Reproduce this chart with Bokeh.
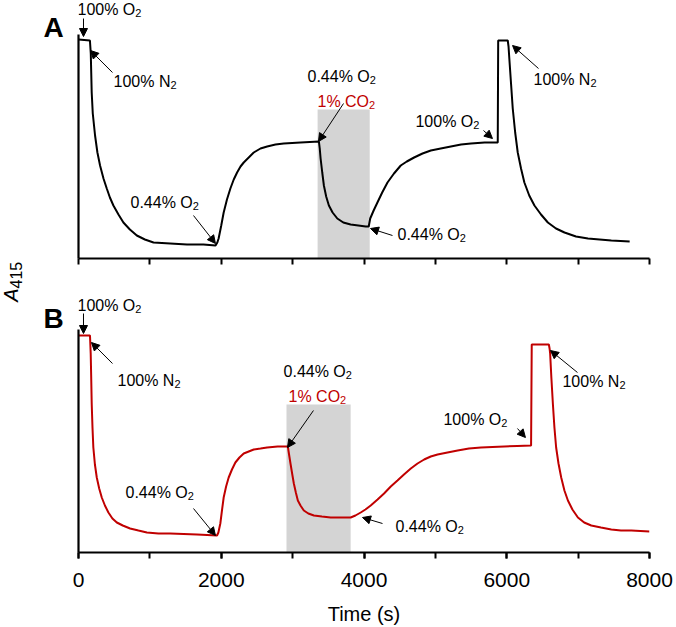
import math
from bokeh.plotting import figure
from bokeh.models import Range1d, Label, Arrow, NormalHead, FixedTicker
from bokeh.layouts import row, column
from bokeh.embed import file_html
from bokeh.resources import INLINE

FONT = "Liberation Sans"

# ---------------- data ----------------
# Panel A: time (s) and A415 (arbitrary units)
time_a = [0, 160, 172, 185, 200, 232, 265, 302, 350, 396, 440, 489, 560, 629, 720, 817, 930, 1051,
          1285, 1520, 1750, 1920,
          1945, 1963, 2000, 2034, 2080, 2128, 2175, 2222, 2270, 2315, 2385, 2455, 2550, 2643,
          2760, 2876, 3111, 3368,
          3380, 3392, 3415, 3438, 3470, 3508, 3560, 3626, 3710, 3813, 3920, 4024, 4066,
          4087, 4135, 4188, 4255, 4329, 4420, 4515, 4600, 4702, 4820, 4936, 5075, 5217, 5360,
          5498, 5690, 5874,
          5880, 6014, 6025, 6036, 6060, 6084, 6118, 6154, 6200, 6247, 6315, 6388, 6480, 6576,
          6690, 6809, 6970, 7138, 7300, 7465, 7722]
a415_a = [0.219, 0.218, 0.205, 0.166, 0.145, 0.123, 0.106, 0.093, 0.080, 0.070, 0.061, 0.053, 0.044,
          0.036, 0.029, 0.023, 0.019, 0.016,
          0.015, 0.014, 0.014, 0.013,
          0.016, 0.020, 0.033, 0.046, 0.059, 0.070, 0.079, 0.086, 0.092, 0.096, 0.101, 0.106, 0.110,
          0.112, 0.114, 0.115, 0.116, 0.117,
          0.110, 0.100, 0.086, 0.073, 0.062, 0.053, 0.046, 0.040, 0.036, 0.034, 0.033, 0.032, 0.032,
          0.040, 0.048, 0.056, 0.066, 0.076, 0.085, 0.093, 0.097, 0.101, 0.105, 0.108, 0.110, 0.112,
          0.114, 0.115, 0.116, 0.116,
          0.218, 0.218, 0.212, 0.200, 0.175, 0.150, 0.126, 0.106, 0.090, 0.076, 0.063, 0.053, 0.044,
          0.036, 0.030, 0.026, 0.022, 0.020, 0.019, 0.018, 0.017]

# Panel B
time_b = [0, 161, 171, 178, 185, 196, 208, 230, 256, 290, 326, 370, 419, 475, 537, 620, 723, 840,
          958, 1120, 1285, 1660, 1941,
          1960, 1987, 2010, 2034, 2068, 2104, 2150, 2198, 2255, 2315, 2385, 2455, 2550, 2643, 2790,
          2933,
          2950, 2970, 2993, 3017, 3045, 3073, 3110, 3157, 3220, 3298, 3410, 3532, 3680, 3813,
          3880, 3954, 4020, 4094, 4190, 4281, 4375, 4469, 4560, 4656, 4750, 4843, 4935, 5031, 5170,
          5312, 5470, 5639, 5800, 5966, 6150, 6341,
          6350, 6590, 6600, 6608, 6625, 6646, 6668, 6692, 6725, 6763, 6808, 6857, 6920, 6997, 7085,
          7184, 7320, 7465, 7600, 7746, 8000]
a415_b = [0.217, 0.217, 0.199, 0.175, 0.149, 0.125, 0.105, 0.088, 0.075, 0.064, 0.055, 0.047, 0.040,
          0.034, 0.030, 0.027, 0.024, 0.022,
          0.020, 0.019, 0.019, 0.018, 0.017,
          0.020, 0.029, 0.042, 0.055, 0.066, 0.075, 0.083, 0.090, 0.095, 0.099, 0.101, 0.103, 0.104,
          0.105, 0.106, 0.106,
          0.098, 0.089, 0.079, 0.069, 0.060, 0.052, 0.047, 0.042, 0.039, 0.037, 0.036, 0.035, 0.035,
          0.035,
          0.037, 0.040, 0.043, 0.047, 0.053, 0.059, 0.066, 0.072, 0.078, 0.084, 0.089, 0.093, 0.096,
          0.098, 0.100, 0.102, 0.104, 0.105, 0.1055, 0.106, 0.1065, 0.107,
          0.208, 0.208, 0.204, 0.199, 0.175, 0.149, 0.125, 0.105, 0.089, 0.075, 0.062, 0.052, 0.043,
          0.035, 0.030, 0.027, 0.025, 0.023, 0.022, 0.022, 0.021]

# 1% CO2 exposure windows (s) and shaded heights
co2_window_a = [3350, 4080]
co2_window_b = [2914, 3813]
co2_top_a = 0.149
co2_top_b = 0.148

x_major_ticks = [0, 2000, 4000, 6000, 8000]
x_minor_ticks = [0, 1000, 2000, 3000, 4000, 5000, 6000, 7000, 8000]

# annotations: (text, subscript, colour, x anchor = end of main text, baseline y)
notes_a = [("100% O", "2", "black", 796, 0.243),
           ("100% N", "2", "black", 1288, 0.171),
           ("0.44% O", "2", "black", 1601, 0.050),
           ("0.44% O", "2", "black", 4081, 0.176),
           ("1% CO", "2", "#c00000", 4071, 0.151),
           ("0.44% O", "2", "black", 5342, 0.018),
           ("100% O", "2", "black", 5531, 0.131),
           ("100% N", "2", "black", 7172, 0.173)]
arrows_a = [(70, 0.240, 70, 0.222),
            (476, 0.186, 168, 0.208),
            (1611, 0.043, 1919, 0.015),
            (3713, 0.155, 3362, 0.117),
            (4399, 0.023, 4091, 0.030),
            (5674, 0.128, 5800, 0.120),
            (6445, 0.190, 6081, 0.213)]
notes_b = [("100% O", "2", "black", 796, 0.241),
           ("100% N", "2", "black", 1344, 0.166),
           ("0.44% O", "2", "black", 1531, 0.054),
           ("0.44% O", "2", "black", 3745, 0.175),
           ("1% CO", "2", "#c00000", 3665, 0.150),
           ("0.44% O", "2", "black", 5314, 0.020),
           ("100% O", "2", "black", 5923, 0.127),
           ("100% N", "2", "black", 7578, 0.165)]
arrows_b = [(70, 0.239, 70, 0.219),
            (476, 0.189, 182, 0.210),
            (1611, 0.044, 1919, 0.017),
            (3292, 0.142, 2928, 0.105),
            (4259, 0.029, 3979, 0.035),
            (6150, 0.124, 6262, 0.115),
            (6991, 0.180, 6613, 0.202)]

NOTE_RAISE = 6   # px, brings the rendered text baseline onto the given y


def make_panel(t, v, color, window, box_top, ytop, yaxis_top, height, b_bottom,
               labels, notes, arrows):
    p = figure(width=606, height=height, output_backend="svg", toolbar_location=None,
               title=None, x_range=Range1d(0, 8000), y_range=Range1d(0, ytop),
               min_border_left=8, min_border_right=27, min_border_top=0,
               min_border_bottom=b_bottom)
    p.outline_line_color = None
    p.xgrid.grid_line_color = None
    p.ygrid.grid_line_color = None
    p.background_fill_color = "white"
    p.border_fill_color = "white"

    p.quad(left=[window[0]], right=[window[1]], bottom=[0], top=[box_top],
           fill_color="#d4d4d4", line_color=None)
    p.line(t, v, line_color=color, line_width=2)

    xa = p.xaxis[0]
    if labels:
        xa.ticker = FixedTicker(ticks=x_major_ticks, minor_ticks=x_minor_ticks)
    else:
        xa.ticker = FixedTicker(ticks=[], minor_ticks=x_minor_ticks)
    xa.axis_line_width = 2.2
    xa.axis_line_color = "black"
    xa.major_tick_in = 0
    xa.major_tick_out = 6
    xa.minor_tick_in = 0
    xa.minor_tick_out = 6
    xa.major_tick_line_width = 2
    xa.minor_tick_line_width = 2
    xa.major_tick_line_color = "black"
    xa.minor_tick_line_color = "black"
    if labels:
        xa.major_label_text_font = FONT
        xa.major_label_text_font_size = "21px"
        xa.major_label_text_color = "black"
        xa.major_label_standoff = 14
        xa.axis_label = "Time (s)"
        xa.axis_label_text_font = FONT
        xa.axis_label_text_font_size = "20px"
        xa.axis_label_text_font_style = "normal"
        xa.axis_label_text_color = "black"
        xa.axis_label_standoff = 13

    ya = p.yaxis[0]
    ya.ticker = FixedTicker(ticks=[])
    ya.bounds = (0, yaxis_top)
    ya.axis_line_width = 2.2
    ya.axis_line_color = "black"
    ya.major_tick_line_color = None
    ya.minor_tick_line_color = None
    ya.major_label_standoff = 0

    for (txt, sub, col, x, y) in notes:
        p.add_layout(Label(x=x, y=y, text=txt, text_font=FONT, text_font_size="16px",
                           text_color=col, text_align="right", text_baseline="alphabetic",
                           y_offset=NOTE_RAISE))
        p.add_layout(Label(x=x, y=y, text=sub, text_font=FONT, text_font_size="11px",
                           text_color=col, text_align="left", text_baseline="alphabetic",
                           y_offset=NOTE_RAISE - 3))
    for (x0, y0, x1, y1) in arrows:
        p.add_layout(Arrow(x_start=x0, y_start=y0, x_end=x1, y_end=y1,
                           line_color="black", line_width=1,
                           end=NormalHead(size=8, fill_color="black", line_color="black",
                                          line_width=1)))
    return p


pa = make_panel(time_a, a415_a, "black", co2_window_a, co2_top_a, 0.258, 0.224, 270, 12,
                False, notes_a, arrows_a)
pb = make_panel(time_b, a415_b, "#c00000", co2_window_b, co2_top_b, 0.282, 0.223, 357, 75,
                True, notes_b, arrows_b)

# left strip carrying the panel letters and the shared y-axis title
ps = figure(width=70, height=627, output_backend="svg", toolbar_location=None, title=None,
            x_range=Range1d(0, 70), y_range=Range1d(627, 0), min_border=0,
            x_axis_location=None, y_axis_location=None)
ps.outline_line_color = None
ps.xgrid.grid_line_color = None
ps.ygrid.grid_line_color = None
ps.add_layout(Label(x=43, y=37, text="A", text_font=FONT, text_font_size="28px",
                    text_font_style="bold", text_color="black", text_align="left",
                    text_baseline="alphabetic", y_offset=10))
ps.add_layout(Label(x=43, y=328, text="B", text_font=FONT, text_font_size="28px",
                    text_font_style="bold", text_color="black", text_align="left",
                    text_baseline="alphabetic", y_offset=10))
ps.add_layout(Label(x=17, y=288, text="A", angle=math.pi / 2, text_font=FONT,
                    text_font_size="20px", text_font_style="italic", text_color="black",
                    text_align="right", text_baseline="alphabetic", x_offset=-7))
ps.add_layout(Label(x=17, y=288, text="415", angle=math.pi / 2, text_font=FONT,
                    text_font_size="16px", text_color="black",
                    text_align="left", text_baseline="alphabetic", x_offset=-2))

layout = row(ps, column(pa, pb))
open("out.html", "w").write(file_html(layout, INLINE))
